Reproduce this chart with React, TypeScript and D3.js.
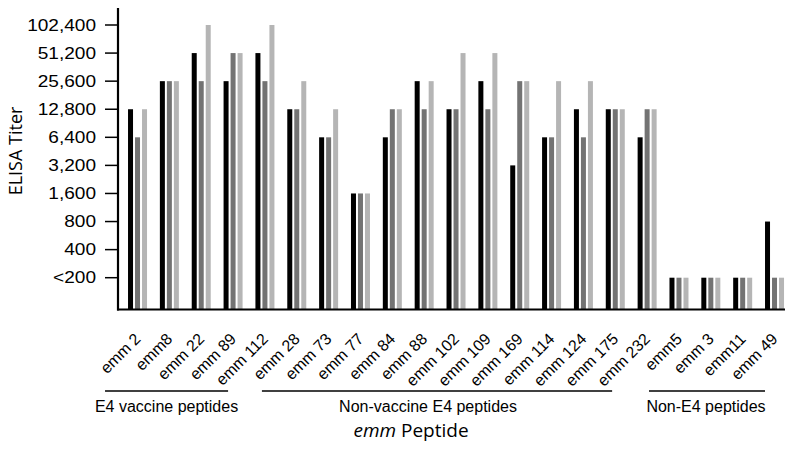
import React from "react";
import * as d3 from "d3";

const categories = ["emm 2","emm8","emm 22","emm 89","emm 112","emm 28","emm 73","emm 77","emm 84","emm 88","emm 102","emm 109","emm 169","emm 114","emm 124","emm 175","emm 232","emm5","emm 3","emm11","emm 49"];
const series1 = [12800,25600,51200,25600,51200,12800,6400,1600,6400,25600,12800,25600,3200,6400,12800,12800,6400,200,200,200,800];
const series2 = [6400,25600,25600,51200,25600,12800,6400,1600,12800,12800,12800,12800,25600,6400,6400,12800,12800,200,200,200,200];
const series3 = [12800,25600,102400,51200,102400,25600,12800,1600,12800,25600,51200,51200,25600,25600,25600,12800,12800,200,200,200,200];
const tickValues = [200,400,800,1600,3200,6400,12800,25600,51200,102400];
const tickLabels = ["<200","400","800","1,600","3,200","6,400","12,800","25,600","51,200","102,400"];
const groupLabels = ["E4 vaccine peptides", "Non-vaccine E4 peptides", "Non-E4 peptides"];
const groupFirst = [0, 4, 17];
const groupLast = [3, 16, 20];
// layout offsets (px) of the bracket lines relative to first/last group centres
const lineOffsets = [[-32.5, -5], [-3, -35], [-30, -9.5]];
const textShift = [0, -9, -1];
const colors = ["#000000", "#737373", "#b5b5b5"];

export default function App() {
  const W = 800, H = 451;
  const axisX = 118, axisY = 309.5;
  const y = d3.scaleLog().base(2).domain([200, 102400]).range([277.7, 25]);
  const x = d3.scaleBand<string>().domain(categories).range([121.6, 121.6 + 21 * 31.85]).padding(0);
  const inner = d3.scaleBand<number>().domain([0, 1, 2]).range([0, 21]).paddingInner(2 / 7).paddingOuter(1 / 7);
  const allSeries = [series1, series2, series3];
  const cx = (c: string) => (x(c) as number) + x.bandwidth() / 2;
  const font = "'Liberation Sans', Arial, sans-serif";
  return (
    <svg width={W} height={H} style={{ position: "absolute", left: 0, top: 0, background: "#fff" }}>
      {categories.map((c, i) => (
        <g key={c}>
          {allSeries.map((s, k) => (
            <rect key={k}
              x={cx(c) - 10.5 + (inner(k) as number)}
              y={y(s[i])}
              width={inner.bandwidth()}
              height={axisY - y(s[i])}
              fill={colors[k]} />
          ))}
        </g>
      ))}
      <line x1={axisX} x2={axisX} y1={8} y2={axisY + 1} stroke="#000" strokeWidth={2.2} />
      <line x1={axisX - 1} x2={785} y1={axisY} y2={axisY} stroke="#000" strokeWidth={2.2} />
      {tickValues.map((v, i) => (
        <g key={v}>
          <line x1={105} x2={axisX} y1={y(v)} y2={y(v)} stroke="#000" strokeWidth={1.5} />
          <text transform={`translate(96,${y(v)}) scale(1.17,1)`} textAnchor="end" dominantBaseline="central"
            fontFamily={font} fontSize={16.3} fill="#000">{tickLabels[i]}</text>
        </g>
      ))}
      <text transform="translate(22,151) rotate(-90)" textAnchor="middle" fontFamily="'Open Sans', sans-serif" fontSize={18} fill="#000">ELISA Titer</text>
      {categories.map((c) => (
        <text key={c} transform={`translate(${cx(c) + 4},${340}) rotate(-45)`} textAnchor="end"
          fontFamily={font} fontSize={16} fill="#000">{c}</text>
      ))}
      {groupLabels.map((g, gi) => {
        const x1 = cx(categories[groupFirst[gi]]) + lineOffsets[gi][0];
        const x2 = cx(categories[groupLast[gi]]) + lineOffsets[gi][1];
        return (
          <g key={g}>
            <line x1={x1} x2={x2} y1={391} y2={391} stroke="#000" strokeWidth={1.6} />
            <text x={(x1 + x2) / 2 + textShift[gi]} y={412} textAnchor="middle" fontFamily={font} fontSize={16} fill="#000">{g}</text>
          </g>
        );
      })}
      <text x={411} y={437} textAnchor="middle" fontFamily="'Open Sans', sans-serif" fontSize={19} fill="#000">
        <tspan fontStyle="italic">emm</tspan> Peptide
      </text>
    </svg>
  );
}
